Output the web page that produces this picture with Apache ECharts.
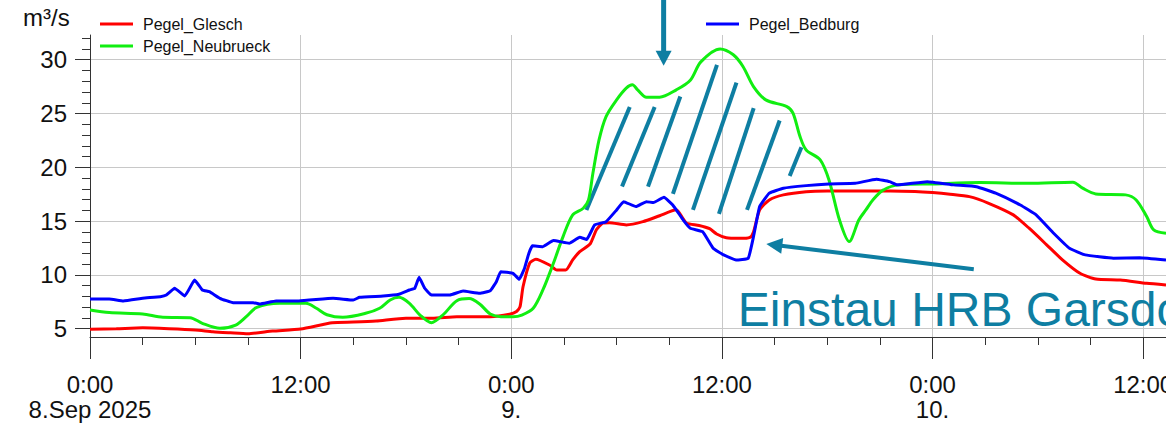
<!DOCTYPE html>
<html><head><meta charset="utf-8">
<script src="https://cdn.jsdelivr.net/npm/echarts@6/dist/echarts.min.js"></script>
<style>html,body{margin:0;padding:0;background:#fff}#c{width:1166px;height:426px}</style>
</head><body><div id="c"></div>
<script>
// Hours since 8 Sep 2025 0:00, values in m³/s
const gleschHours = [0,1.5,3,4.5,6,7,8,9,10.4,12,13.8,15,16.3,18,19.5,20.9,22.8,23.9,24.3,24.5,24.67,25.05,25.4,26.2,26.6,27.1,27.5,27.9,28.5,28.85,29.2,29.6,30.55,31.5,32.45,33.4,33.8,34.0,34.7,35.3,35.7,36.25,37.0,37.6,37.8,38.15,38.7,39.5,40.8,42,44,45.6,47,48,49,50.1,51.2,52.6,53.5,54.5,55.4,56.4,57.3,58.7,60.2,61.3];
const gleschValues = [4.95,5.0,5.08,5.0,4.88,4.72,4.62,4.53,4.78,4.97,5.56,5.62,5.72,5.97,5.97,6.12,6.12,6.34,6.6,7.05,8.9,11.1,11.45,10.9,10.46,10.46,11.4,12.16,12.9,14.2,14.8,14.86,14.65,14.95,15.5,16.05,15.2,14.8,14.6,14.3,13.8,13.45,13.4,13.5,14.0,16.04,16.97,17.44,17.74,17.8,17.8,17.8,17.75,17.65,17.5,17.28,16.66,15.58,14.34,12.8,11.4,10.15,9.62,9.53,9.22,9.07];

const neubrueckHours = [0,1.1,3,4.15,5.7,6.4,7.4,8.3,8.9,9.5,10.8,12.3,12.9,13.5,14.4,15.7,16.5,17.1,17.6,18.2,18.8,19.45,20.1,20.9,21.6,22.2,22.8,23.4,24.1,24.6,25.25,25.8,26.4,26.95,27.5,28.1,28.4,28.65,29.0,29.4,30.0,30.55,30.9,31.2,31.7,32.45,33.4,34.2,34.8,35.9,36.65,37.2,37.8,38.5,39.7,40.05,40.45,40.8,41.6,42.1,42.7,43.25,43.8,44.2,44.6,45.2,46.1,48,50.7,53.5,56,56.55,57.3,59,59.6,60.2,60.6,61.3];
const neubrueckValues = [6.74,6.5,6.37,6.06,6.03,5.5,5.04,5.34,6.12,6.99,7.36,7.36,6.9,6.3,6.06,6.43,6.9,7.67,7.92,7.36,6.27,5.56,6.27,7.6,7.8,7.3,6.37,6.12,6.12,6.27,6.9,8.6,11.08,13.56,15.58,16.2,16.97,19.45,22.55,24.72,26.27,27.36,27.67,27.2,26.52,26.52,27.2,28.1,29.8,31.0,30.46,29.37,27.5,26.27,25.65,25.04,22.86,21.62,20.7,18.83,15.1,13.1,15.1,16.04,16.97,17.9,18.37,18.46,18.58,18.52,18.62,18.06,17.53,17.44,16.97,15.42,14.18,13.87];

const bedburgHours = [0,1.1,1.9,3,4.0,4.35,4.82,5.4,5.96,6.4,6.8,7.4,8.15,9.3,9.66,10.6,11.9,13.85,15.0,15.36,16.7,17.6,18.2,18.5,18.75,19.07,19.45,20.5,21.25,22.2,22.8,23.15,23.4,24.1,24.45,24.75,25.0,25.2,25.8,26.4,27.3,27.9,28.3,28.75,29.4,30.0,30.4,31.1,31.7,32.1,32.7,33.2,33.8,34.2,34.9,35.5,36.1,36.8,37.5,37.8,38.15,38.7,39.5,40.8,42.1,43.6,44.8,45.55,46.0,47.7,49.2,50.5,51.6,53.0,53.9,54.9,55.8,56.7,58.3,59.8,61.3];
const bedburgValues = [7.76,7.76,7.58,7.83,7.98,8.13,8.76,8.04,9.53,8.6,8.44,7.83,7.42,7.42,7.3,7.58,7.58,7.83,7.67,7.92,8.04,8.2,8.6,8.76,9.78,8.76,8.13,8.13,8.5,8.29,8.53,9.37,10.3,10.15,9.6,10.6,12.0,12.7,12.63,13.2,12.94,13.5,13.3,14.65,14.95,16.04,16.81,16.35,16.81,16.72,17.22,16.5,15.1,14.34,14.02,12.48,11.86,11.39,11.55,13.56,16.35,17.6,18.06,18.3,18.46,18.52,18.9,18.67,18.37,18.67,18.37,18.2,17.6,16.5,15.58,13.87,12.48,11.86,11.55,11.6,11.39];

const xTickHours = [0,12,24,36,48,60];
const xTickLabels = ['0:00\n8.Sep 2025','12:00','0:00\n9.','12:00','0:00\n10.','12:00'];
const xMinorHours = [3,6,9,15,18,21,27,30,33,39,42,45,51,54,57];
const yTickValues = [5,10,15,20,25,30];
const yMinorValues = [6,7,8,9,11,12,13,14,16,17,18,19,21,22,23,24,26,27,28,29,31,32];

// Annotations in data coordinates [hour, value]
const hatchLines = [
  [28.28,16.04,30.75,25.6],[30.31,18.21,32.17,25.6],[31.79,18.21,33.63,26.58],[33.21,17.53,35.72,29.53],
  [34.35,16.04,36.83,27.88],[35.83,15.67,37.81,25.5],[37.43,16.04,39.29,24.35],[39.86,19.2,40.53,21.87]
];
const arrowDown = {from:[32.68,35.6], to:[32.68,29.44]};
const arrowLeft = {from:[50.35,10.53], to:[38.53,12.88]};
const noteText = {text:'Einstau HRB Garsdorf', at:[36.9,6.75]};

const X_MAX = 61.3, Y_MIN = 4.23, Y_MAX = 32.3;
const FONT = '"Liberation Sans", Arial, sans-serif';
const AX = '#333';
const TEAL = '#0e7ea2';
const zip = (h, v) => h.map((x, i) => [x, v[i]]);

const chart = echarts.init(document.getElementById('c'), null, {renderer: 'svg'});
const lineSeries = (name, color, h, v, smooth) => ({
  name, type: 'line', color, data: zip(h, v), showSymbol: false, symbol: 'none', smooth,
  lineStyle: {width: 3, color}, xAxisIndex: 0, yAxisIndex: 0, clip: true
});
chart.setOption({
  animation: false,
  backgroundColor: '#fff',
  grid: {left: 90, top: 35, right: 0, bottom: 89, containLabel: false, outerBoundsMode: 'none'},
  legend: [
    {data: ['Pegel_Glesch', 'Pegel_Neubrueck'], orient: 'vertical', left: 100, top: 16, icon: 'rect',
     itemWidth: 33, itemHeight: 3, itemGap: 6, padding: 0,
     textStyle: {fontSize: 16, lineHeight: 16, color: '#111', fontFamily: FONT, padding: [0, 0, 0, 5]}},
    {data: ['Pegel_Bedburg'], orient: 'vertical', left: 706, top: 16, icon: 'rect',
     itemWidth: 33, itemHeight: 3, padding: 0,
     textStyle: {fontSize: 16, lineHeight: 16, color: '#111', fontFamily: FONT, padding: [0, 0, 0, 5]}}
  ],
  xAxis: [
    {type: 'value', min: 0, max: X_MAX, position: 'bottom',
     axisLine: {show: true, lineStyle: {color: AX, width: 1}},
     axisTick: {show: true, customValues: xTickHours, length: 22, lineStyle: {color: AX}},
     axisLabel: {customValues: xTickHours, formatter: v => { const i = xTickHours.indexOf(Math.round(v)); return i >= 0 ? xTickLabels[i] : ''; },
       margin: 35, fontSize: 24, lineHeight: 25, color: '#111', fontFamily: FONT, align: 'center'},
     splitLine: {show: true, lineStyle: {color: '#c8c8c8', width: 1}}},
    {type: 'value', min: 0, max: X_MAX, position: 'bottom', offset: 0,
     axisLine: {show: false},
     axisTick: {show: true, customValues: xMinorHours, length: 8, lineStyle: {color: AX}},
     axisLabel: {show: false}, splitLine: {show: false}}
  ],
  yAxis: [
    {type: 'value', min: Y_MIN, max: Y_MAX, position: 'left',
     axisLine: {show: true, lineStyle: {color: AX, width: 1}},
     axisTick: {show: true, customValues: yTickValues, length: 15, lineStyle: {color: AX}},
     axisLabel: {customValues: yTickValues, margin: 23, fontSize: 24, color: '#111', fontFamily: FONT},
     splitLine: {show: true, lineStyle: {color: '#c8c8c8', width: 1}}},
    {type: 'value', min: Y_MIN, max: Y_MAX, position: 'left', offset: 0,
     axisLine: {show: false},
     axisTick: {show: true, customValues: yMinorValues, length: 8, lineStyle: {color: AX}},
     axisLabel: {show: false}, splitLine: {show: false}}
  ],
  series: [
    lineSeries('Pegel_Glesch', '#ff0000', gleschHours, gleschValues, 0.2),
    lineSeries('Pegel_Neubrueck', '#11ee11', neubrueckHours, neubrueckValues, 0.3),
    lineSeries('Pegel_Bedburg', '#0000ff', bedburgHours, bedburgValues, 0.1)
  ]
});

function px(p) { return chart.convertToPixel({seriesIndex: 0}, p); }
function arrow(a, len, hw, w) {
  const s = px(a.from), t = px(a.to);
  const dx = t[0] - s[0], dy = t[1] - s[1], L = Math.hypot(dx, dy), ux = dx / L, uy = dy / L;
  const bx = t[0] - ux * len, by = t[1] - uy * len;
  return [
    {type: 'line', shape: {x1: s[0], y1: s[1], x2: bx + ux, y2: by + uy}, style: {stroke: TEAL, lineWidth: w}},
    {type: 'polygon', shape: {points: [[t[0], t[1]], [bx - uy * hw, by + ux * hw], [bx + uy * hw, by - ux * hw]]}, style: {fill: TEAL}}
  ];
}
const g = [];
hatchLines.forEach(l => {
  const a = px([l[0], l[1]]), b = px([l[2], l[3]]);
  g.push({type: 'line', shape: {x1: a[0], y1: a[1], x2: b[0], y2: b[1]}, style: {stroke: TEAL, lineWidth: 4}});
});
g.push(...arrow(arrowDown, 15, 8, 5));
g.push(...arrow(arrowLeft, 16, 8, 4));
const tp = px(noteText.at);
g.push({type: 'text', x: tp[0], y: tp[1], style: {text: noteText.text, fontSize: 48, fontFamily: FONT, fill: TEAL, align: 'left', verticalAlign: 'middle'}});
g.push({type: 'text', x: 23, y: 17, style: {text: 'm³/s', fontSize: 24, fontFamily: FONT, fill: '#111', align: 'left', verticalAlign: 'middle'}});
chart.setOption({graphic: g});
</script></body></html>
